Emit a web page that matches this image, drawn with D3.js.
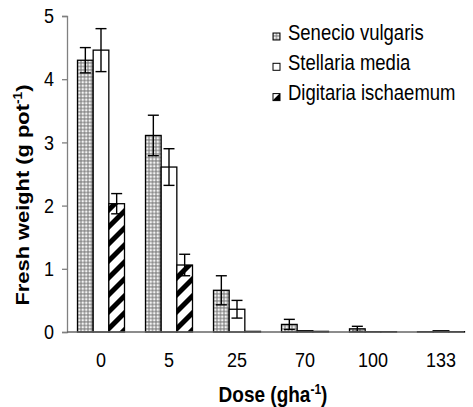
<!DOCTYPE html>
<html>
<head>
<meta charset="utf-8">
<script src="https://cdn.jsdelivr.net/npm/d3@7"></script>
<style>
  html, body { margin: 0; padding: 0; background: #fff; }
  svg { display: block; font-family: "Liberation Sans", Arial, sans-serif; }
</style>
</head>
<body>
<svg id="chart" width="473" height="407"></svg>
<script>
// Fresh weight per pot at each herbicide dose, three weed species
const doses = ["0", "5", "25", "70", "100", "133"];
const species = ["Senecio vulgaris", "Stellaria media", "Digitaria ischaemum"];
const senecio   = [4.30, 3.11, 0.66, 0.12, 0.05, 0.005];
const senecioSE = [0.20, 0.32, 0.23, 0.08, 0.04, 0];
const stellaria   = [4.46, 2.61, 0.36, 0.02, 0.005, 0.02];
const stellariaSE = [0.34, 0.29, 0.14, 0, 0, 0];
const digitaria   = [2.03, 1.06, 0.01, 0.01, 0.005, 0.005];
const digitariaSE = [0.16, 0.17, 0, 0, 0, 0];
const yTicks = [0, 1, 2, 3, 4, 5];

const seriesValues = [senecio, stellaria, digitaria];
const seriesErrors = [senecioSE, stellariaSE, digitariaSE];

const svg = d3.select("#chart");
const W = 473;
const stretch = 1.15;   // glyphs are drawn slightly taller than wide

// fill patterns
const defs = svg.append("defs");
const dots = defs.append("pattern").attr("id", "dots")
  .attr("patternUnits", "userSpaceOnUse").attr("width", 3.5).attr("height", 3.5);
dots.append("rect").attr("width", 3.5).attr("height", 3.5).attr("fill", "#8c8c8c");
dots.append("circle").attr("cx", 1.75).attr("cy", 1.75).attr("r", 1.3).attr("fill", "#f4f4f4");

const hatch = defs.append("pattern").attr("id", "hatch")
  .attr("patternUnits", "userSpaceOnUse").attr("width", 12).attr("height", 12)
  .attr("patternTransform", "rotate(45)");
hatch.append("rect").attr("width", 12).attr("height", 12).attr("fill", "#fff");
hatch.append("rect").attr("width", 5).attr("height", 12).attr("fill", "#000");

const fills = ["url(#dots)", "#fff", "url(#hatch)"];

// scales
const x0 = d3.scaleBand().domain(doses).range([67, 475])
  .paddingInner(21 / 68).paddingOuter(21 / 136);
const x1 = d3.scaleBand().domain(d3.range(species.length)).range([0, x0.bandwidth()]);
const y = d3.scaleLinear().domain([0, 5]).range([332, 16]);

// bars
const groups = svg.append("g").selectAll("g").data(doses).join("g")
  .attr("transform", d => `translate(${x0(d)},0)`);

groups.selectAll("rect")
  .data((d, i) => seriesValues.map((vals, s) => ({ s, v: vals[i], e: seriesErrors[s][i] })))
  .join("rect")
  .attr("x", d => x1(d.s))
  .attr("width", x1.bandwidth())
  .attr("y", d => y(d.v))
  .attr("height", d => y(0) - y(d.v))
  .attr("fill", d => fills[d.s])
  .attr("stroke", "#000")
  .attr("stroke-width", 1.3);

// error bars
const errs = groups.selectAll("g.err")
  .data((d, i) => seriesValues.map((vals, s) => ({ s, v: vals[i], e: seriesErrors[s][i] })).filter(d => d.e > 0))
  .join("g").attr("class", "err")
  .attr("stroke", "#000").attr("stroke-width", 1.4);
const cx = d => x1(d.s) + x1.bandwidth() / 2;
errs.append("line").attr("x1", cx).attr("x2", cx)
  .attr("y1", d => y(d.v + d.e)).attr("y2", d => y(d.v - d.e));
errs.append("line").attr("x1", d => cx(d) - 5.5).attr("x2", d => cx(d) + 5.5)
  .attr("y1", d => y(d.v + d.e)).attr("y2", d => y(d.v + d.e));
errs.append("line").attr("x1", d => cx(d) - 5.5).attr("x2", d => cx(d) + 5.5)
  .attr("y1", d => y(d.v - d.e)).attr("y2", d => y(d.v - d.e));

// y axis
const yAxis = svg.append("g").attr("transform", "translate(67,0)")
  .call(d3.axisLeft(y).tickValues(yTicks).tickFormat(d3.format("d")).tickSize(5).tickPadding(8));
yAxis.select(".domain").attr("stroke", "#808080").attr("stroke-width", 1.3);
yAxis.selectAll(".tick line").attr("stroke", "#808080").attr("stroke-width", 1.3);
yAxis.selectAll(".tick text")
  .attr("font-size", 18).attr("fill", "#000")
  .attr("font-family", "Liberation Sans, Arial, sans-serif")
  .attr("transform", `scale(1,${stretch})`);

// x axis
const xAxis = svg.append("g").attr("transform", `translate(0,${y(0)})`)
  .call(d3.axisBottom(x0).tickSize(0).tickPadding(0));
xAxis.select(".domain").remove();
xAxis.append("line").attr("x1", x0.range()[0]).attr("x2", W - 9)
  .attr("stroke", "#666").attr("stroke-width", 1.3);
xAxis.selectAll(".tick text")
  .attr("font-size", 18).attr("fill", "#000")
  .attr("font-family", "Liberation Sans, Arial, sans-serif")
  .attr("y", 0).attr("dy", 0)
  .attr("transform", `translate(0,35) scale(1,${stretch})`);

// axis titles
const xt = svg.append("text")
  .attr("transform", `translate(273,402) scale(1,${stretch})`)
  .attr("text-anchor", "middle").attr("font-weight", "bold").attr("font-size", 19);
xt.append("tspan").text("Dose (gha");
xt.append("tspan").attr("font-size", 12).attr("dy", -7).text("-1");
xt.append("tspan").attr("dy", 7).text(")");

const yt = svg.append("text")
  .attr("transform", `translate(29,195) rotate(-90) scale(${stretch},1)`)
  .attr("text-anchor", "middle").attr("font-weight", "bold").attr("font-size", 19);
yt.append("tspan").text("Fresh weight (g pot");
yt.append("tspan").attr("font-size", 12).attr("dy", -7).text("-1");
yt.append("tspan").attr("dy", 7).text(")");

// legend
const legend = svg.append("g").selectAll("g").data(species).join("g")
  .attr("transform", (d, i) => `translate(273,${39.5 + i * 30.3})`);
legend.append("rect").attr("x", 0).attr("y", -6.5).attr("width", 7).attr("height", 7)
  .attr("fill", (d, i) => fills[i]).attr("stroke", "#000").attr("stroke-width", 1);
legend.append("text").attr("x", 15).attr("y", 0)
  .attr("font-size", 18.5)
  .attr("transform", `scale(1,${stretch})`)
  .text(d => d);
</script>
</body>
</html>
